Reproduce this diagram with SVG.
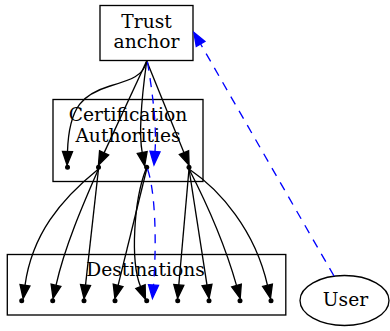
<svg xmlns="http://www.w3.org/2000/svg" width="390" height="331" viewBox="0 0 390 331">
<style>
text{font-family:"DejaVu Serif","Liberation Serif",serif;font-size:18.67px;fill:#000;text-anchor:middle}
.box{fill:none;stroke:#000;stroke-width:1.33}
.pt{fill:#000}
.e{fill:none;stroke:#000;stroke-width:1.33;marker-end:url(#ah)}
.b{fill:none;stroke:#0000ff;stroke-width:1.33;stroke-dasharray:9,7.5;marker-end:url(#bh)}
</style>
<defs>
<marker id="ah" markerUnits="userSpaceOnUse" markerWidth="16" markerHeight="12" refX="0" refY="6" orient="auto" overflow="visible"><polygon points="0,1 13.5,6 0,11" fill="#000" stroke="#000" stroke-width="1.33"/></marker>
<marker id="bh" markerUnits="userSpaceOnUse" markerWidth="16" markerHeight="12" refX="0" refY="6" orient="auto" overflow="visible"><polygon points="0,1 13.5,6 0,11" fill="#0000ff" stroke="#0000ff" stroke-width="1.33"/></marker>
</defs>
<g id="trust-anchor">
<rect class="box" x="100" y="5.5" width="93" height="55"/>
<text x="146.5" y="28.3">Trust</text>
<text x="146.5" y="48.3">anchor</text>
</g>
<g id="cas">
<rect class="box" x="53" y="99.5" width="150" height="82"/>
<text x="128" y="120.7">Certification</text>
<text x="128" y="141.7">Authorities</text>
<g id="ca1"><circle class="pt" cx="67.5" cy="167.3" r="2.5"/></g>
<g id="ca2"><circle class="pt" cx="98.5" cy="167.3" r="2.5"/></g>
<g id="ca3"><circle class="pt" cx="146.7" cy="167.3" r="2.5"/></g>
<g id="ca4"><circle class="pt" cx="189" cy="167.3" r="2.5"/></g>
</g>
<g id="destinations">
<rect class="box" x="7.3" y="254.5" width="278.5" height="60.5"/>
<text x="145.5" y="276">Destinations</text>
<g id="d1"><circle class="pt" cx="21.7" cy="300.7" r="2.5"/></g>
<g id="d2"><circle class="pt" cx="52.7" cy="300.7" r="2.5"/></g>
<g id="d3"><circle class="pt" cx="84" cy="300.7" r="2.5"/></g>
<g id="d4"><circle class="pt" cx="115" cy="300.7" r="2.5"/></g>
<g id="d5"><circle class="pt" cx="146.7" cy="300.7" r="2.5"/></g>
<g id="d6"><circle class="pt" cx="177.7" cy="300.7" r="2.5"/></g>
<g id="d7"><circle class="pt" cx="209" cy="300.7" r="2.5"/></g>
<g id="d8"><circle class="pt" cx="240" cy="300.7" r="2.5"/></g>
<g id="d9"><circle class="pt" cx="271" cy="300.7" r="2.5"/></g>
</g>
<g id="user">
<ellipse class="box" cx="344.5" cy="300.5" rx="44.5" ry="25"/>
<text x="345.5" y="306">User</text>
</g>
<g id="connectors">
<path class="e" d="M146.7,61 C144,76 130,80 110,86 C84,94 69,105 67.5,151.5"/>
<path class="e" d="M146.7,61 L104.1,152.9"/>
<path class="e" d="M146.7,61 C142,95 138,130 142.2,152.5"/>
<path class="e" d="M146.7,61 L184,152.7"/>
<path class="e" d="M98.5,169 C60,200 32,235 25,285.3"/>
<path class="e" d="M98.5,169 C85,200 65,245 56,285.3"/>
<path class="e" d="M98.5,169 L85.5,285.1"/>
<path class="e" d="M146.7,169 L118.1,285.4"/>
<path class="e" d="M146,169 C134,200 130,260 140.5,286.6"/>
<path class="e" d="M189,169 L178.8,285"/>
<path class="e" d="M189,169 L207,285.1"/>
<path class="e" d="M189,169 C205,200 225,245 236.5,285.4"/>
<path class="e" d="M189,169 C220,190 255,230 267.5,285.3"/>
<path class="b" d="M147.5,62 C152,90 157,125 155,151.5"/>
<path class="b" d="M147.5,169 C155,190 157,240 153.5,285"/>
<path class="b" d="M334,276 L200.6,44"/>
</g>
</svg>
